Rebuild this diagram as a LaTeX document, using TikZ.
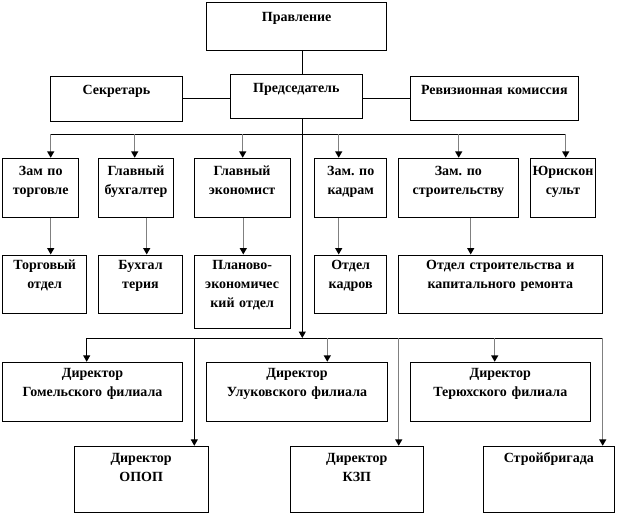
\documentclass[tikz,border=0pt]{standalone}
\usepackage{fontspec}
\setmainfont{Liberation Serif}
\usetikzlibrary{arrows.meta,calc,fit}
\definecolor{lgray}{RGB}{128,128,128}
\frenchspacing
\newcommand\obox[7]{%
  \node[box, fit={(#2,#3)(#4,#5)}] (#1) {};
  \pgfmathsetmacro\tw{#4-#2}
  \node[txt, text width=\tw pt] (#1t) at ($(#1.north)+(0,#6)$) {#7};
}
\begin{document}
\begin{tikzpicture}[x=1pt,y=-1pt,
  box/.style={draw=black, line width=1pt, inner sep=0pt, fill=white},
  txt/.style={font=\fontsize{14}{19}\selectfont\bfseries, align=center, anchor=base, inner sep=0pt},
  line/.style={draw=black, line width=1pt},
  arrk/.style={draw=black, line width=1pt, -{Triangle[width=7pt,length=6.5pt]}},
  arrg/.style={draw=lgray, line width=1.4pt, -{Triangle[width=7pt,length=6.5pt,color=black]}}
]
\useasboundingbox (0,0) rectangle (618,519);
% top level
\obox{prav}{206.7}{2.7}{386.7}{50.3}{19}{Правление}
\obox{sekr}{50.7}{76.3}{182.3}{121}{18.7}{Секретарь}
\obox{pred}{230}{74}{362.7}{118.3}{19.3}{Председатель}
\obox{rev}{410.3}{76.3}{578.3}{120.7}{18.5}{Ревизионная комиссия}
% row 2
\obox{zt}{2.7}{158.3}{78.7}{217.3}{17.7}{Зам по\\торговле}
\obox{gb}{98.7}{158.3}{173.3}{217.3}{17.7}{Главный\\бухгалтер}
\obox{ge}{194.3}{158.3}{290}{217.3}{17.7}{Главный\\экономист}
\obox{zk}{314.7}{158.3}{386.7}{217.3}{17.7}{Зам. по\\кадрам}
\obox{zs}{398.7}{158.3}{518}{217.3}{17.7}{Зам. по\\строительству}
\obox{yur}{530.3}{158.3}{595.7}{217.3}{17.7}{Юрискон\\сульт}
% row 3
\obox{to}{2.7}{255}{86.7}{313.3}{15}{Торговый\\отдел}
\obox{bu}{98.7}{255}{182.3}{313.3}{15}{Бухгал\\терия}
\obox{pe}{194.3}{255}{290}{328.3}{15}{Планово-\\экономичес\\кий отдел}
\obox{ok}{314.7}{255}{386.7}{313.3}{15}{Отдел\\кадров}
\obox{os}{398.7}{255}{602}{313.3}{15}{Отдел строительства и\\капитального ремонта}
% row 4
\obox{gom}{2.7}{362.3}{182.3}{421.3}{16}{Директор\\Гомельского филиала}
\obox{ulu}{206.7}{362.3}{387.3}{421.3}{16}{Директор\\Улуковского филиала}
\obox{ter}{410.3}{362.3}{590.3}{421.3}{16}{Директор\\Терюхского филиала}
% row 5
\obox{opop}{74.3}{446.3}{208}{512.3}{16.7}{Директор\\ОПОП}
\obox{kzp}{290.7}{446.3}{423}{512.3}{16.7}{Директор\\КЗП}
\obox{stroy}{483}{446.3}{614.7}{512.3}{16.7}{Стройбригада}
% connectors
\coordinate (tr) at (302.3,0);
\draw[line] (prav.south -| tr) -- (pred.north -| tr);
\draw[line] (sekr.east) -- (sekr.east -| pred.west);
\draw[line] (rev.west -| pred.east) -- (rev.west);
\coordinate (b2t) at (302.3,338);
\draw[arrk] (pred.south -| tr) -- (b2t);
% bus 1
\coordinate (b1a) at (50.7,134.3);
\coordinate (b1b) at (134.7,134.3);
\coordinate (b1c) at (242.7,134.3);
\coordinate (b1d) at (338.7,134.3);
\coordinate (b1e) at (458.7,134.3);
\coordinate (b1f) at (565.7,134.3);
\draw[line] (b1a) -- (b1f);
\draw[arrg] (b1a) -- (zt.north -| b1a);
\draw[arrg] (b1b) -- (gb.north -| b1b);
\draw[arrg] (b1c) -- (ge.north -| b1c);
\draw[arrg] (b1d) -- (zk.north -| b1d);
\draw[arrg] (b1e) -- (zs.north -| b1e);
\draw[arrg] (b1f) -- (yur.north -| b1f);
% row 2 -> row 3
\coordinate (c1) at (50.7,0);
\coordinate (c2) at (146.7,0);
\coordinate (c3) at (243.3,0);
\coordinate (c4) at (338.7,0);
\coordinate (c5) at (470.7,0);
\draw[arrg] (zt.south -| c1) -- (to.north -| c1);
\draw[arrg] (gb.south -| c2) -- (bu.north -| c2);
\draw[arrg] (ge.south -| c3) -- (pe.north -| c3);
\draw[arrg] (zk.south -| c4) -- (ok.north -| c4);
\draw[arrg] (zs.south -| c5) -- (os.north -| c5);
% bus 2
\coordinate (b2a) at (86.7,338);
\coordinate (b2b) at (194.3,338);
\coordinate (b2c) at (327.3,338);
\coordinate (b2d) at (398.7,338);
\coordinate (b2e) at (494.7,338);
\coordinate (b2f) at (602.7,338);
\draw[line] (b2a) -- (b2f);
\draw[arrk] (b2a) -- (gom.north -| b2a);
\draw[arrk] (b2b) -- (opop.north -| b2b);
\draw[arrg] (b2c) -- (ulu.north -| b2c);
\draw[arrg] (b2d) -- (kzp.north -| b2d);
\draw[arrg] (b2e) -- (ter.north -| b2e);
\draw[arrg] (b2f) -- (stroy.north -| b2f);
\end{tikzpicture}
\end{document}
